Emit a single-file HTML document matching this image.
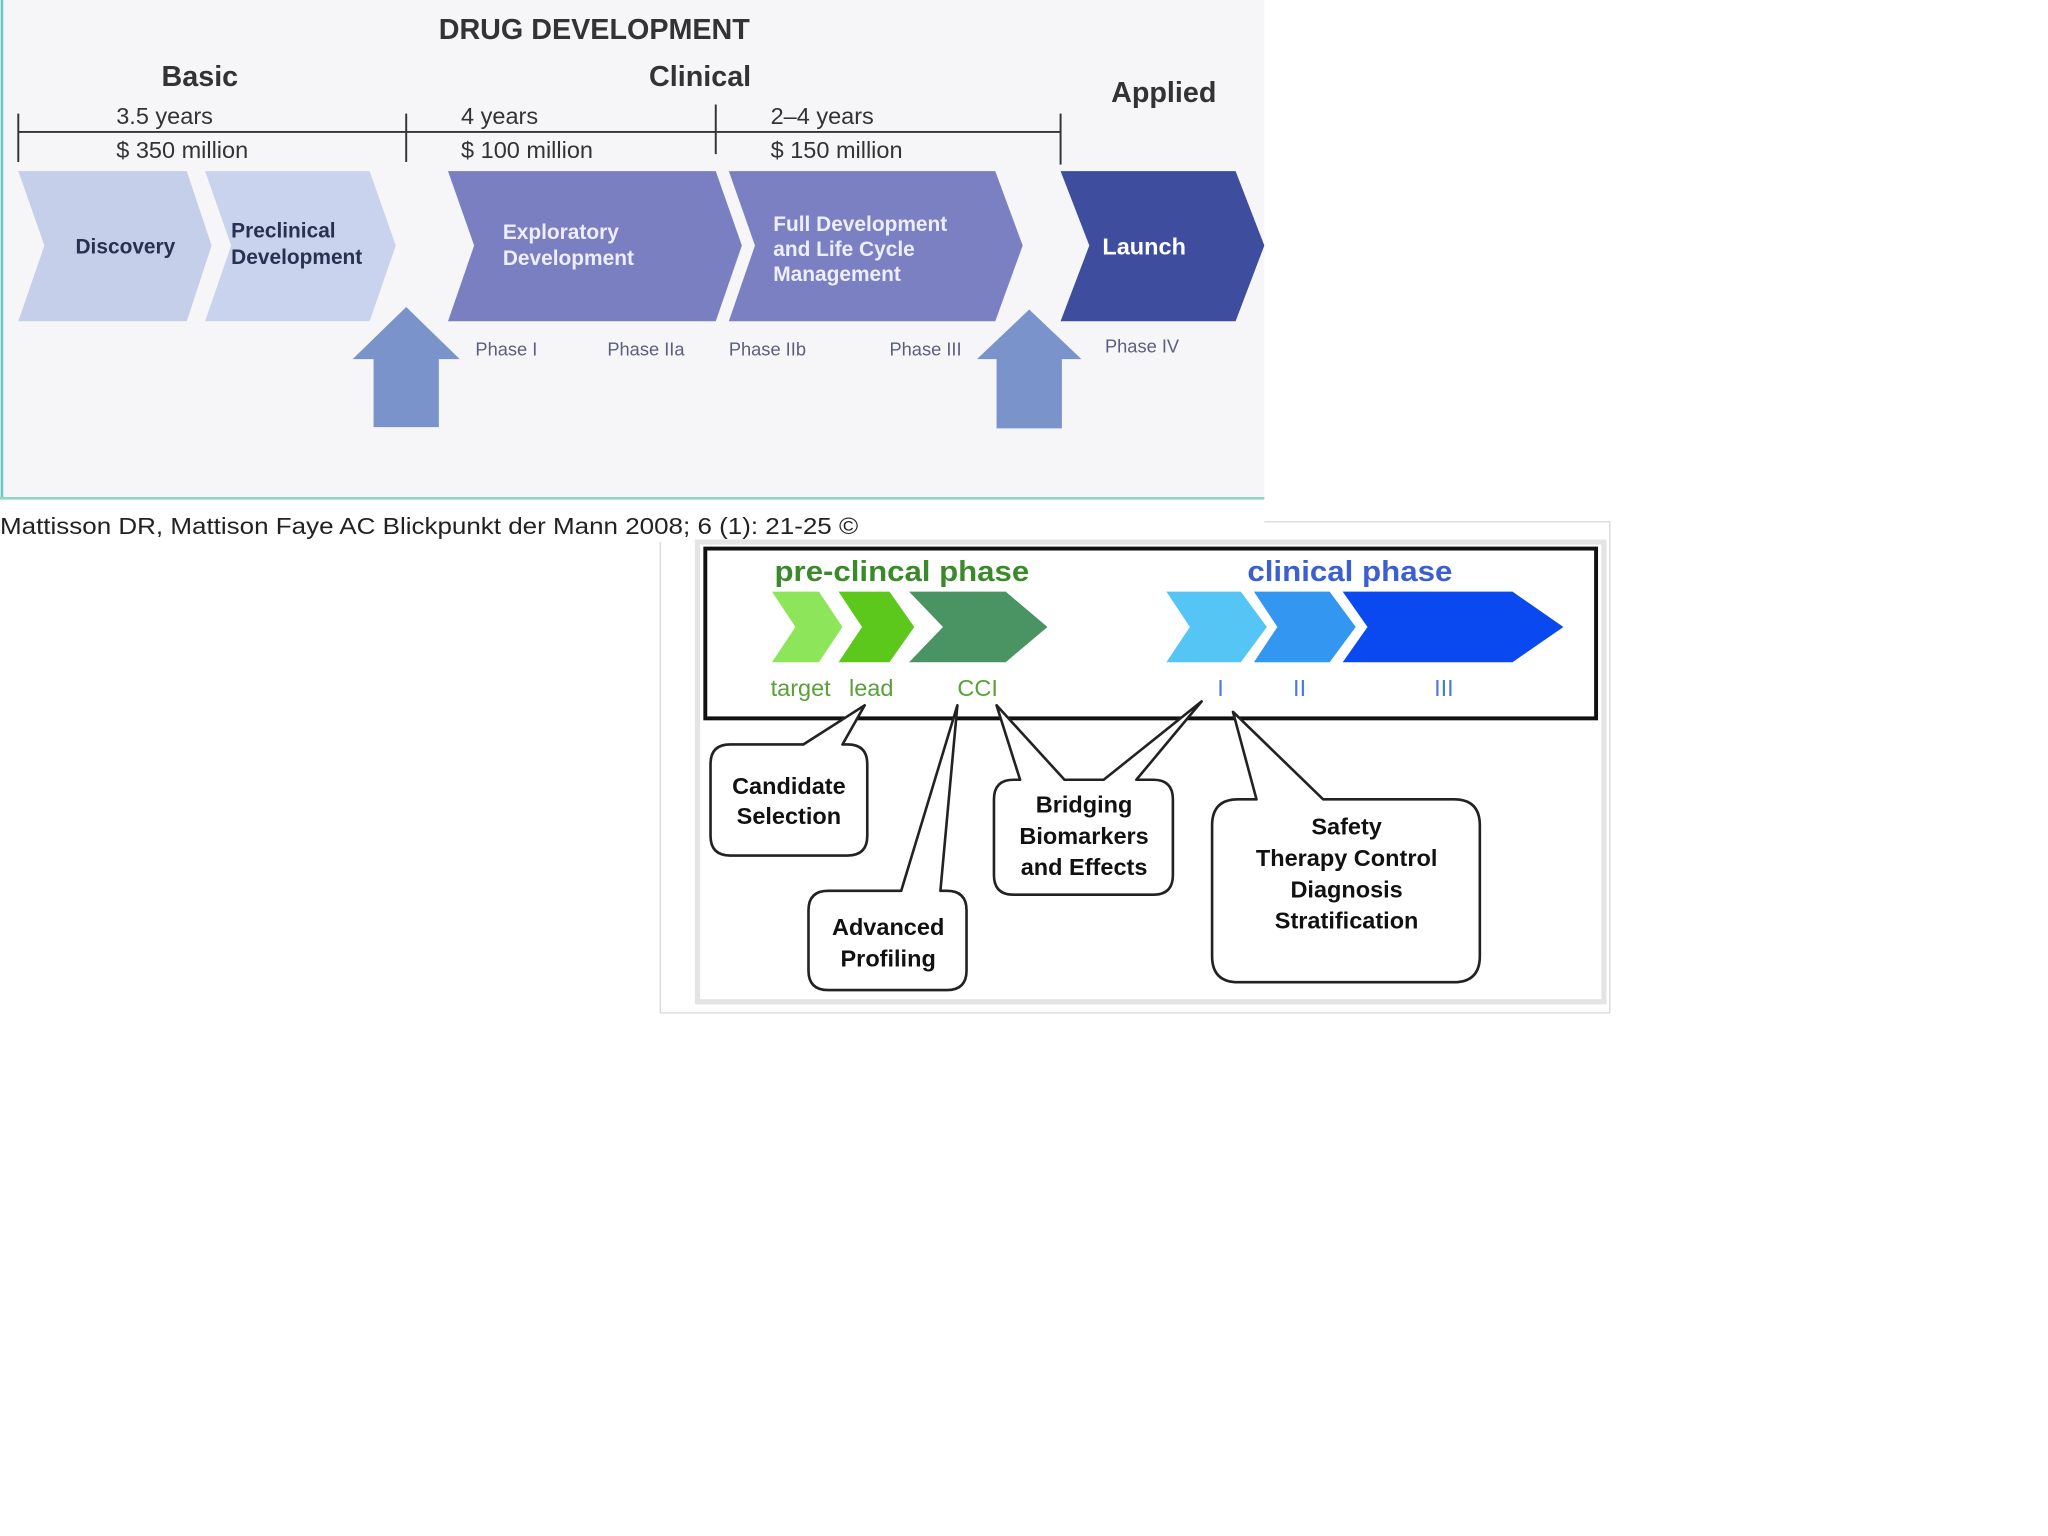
<!DOCTYPE html>
<html><head><meta charset="utf-8"><style>
html,body{margin:0;padding:0;background:#fff;}
svg{display:block;}
text{font-family:"Liberation Sans",Arial,sans-serif;}
</style></head><body>
<svg width="2048" height="1536" viewBox="0 0 1568 1176" xmlns="http://www.w3.org/2000/svg">
<rect x="0" y="0" width="1568" height="1176" fill="#fff"/>
<!-- top panel -->
<rect x="0" y="0" width="968" height="381" fill="#f6f6f8"/>
<line x1="1.5" y1="0" x2="1.5" y2="381" stroke="#6cc7c0" stroke-width="2"/>
<line x1="0" y1="381.5" x2="968" y2="381.5" stroke="#8fd3cc" stroke-width="2"/>
<text x="455" y="30" text-anchor="middle" font-size="22" font-weight="bold" fill="#333">DRUG DEVELOPMENT</text>
<text x="153" y="66" text-anchor="middle" font-size="22" font-weight="bold" fill="#333">Basic</text>
<text x="536" y="66" text-anchor="middle" font-size="22" font-weight="bold" fill="#333">Clinical</text>
<text x="891" y="78" text-anchor="middle" font-size="22" font-weight="bold" fill="#333">Applied</text>
<g stroke="#333" stroke-width="1.5">
<line x1="14" y1="101" x2="812" y2="101"/>
<line x1="14" y1="87" x2="14" y2="124"/>
<line x1="311" y1="87" x2="311" y2="124"/>
<line x1="548" y1="80" x2="548" y2="118"/>
<line x1="812" y1="87" x2="812" y2="126"/>
</g>
<g font-size="18" fill="#333">
<text x="89" y="95">3.5 years</text><text x="89" y="121">$ 350 million</text>
<text x="353" y="95">4 years</text><text x="353" y="121">$ 100 million</text>
<text x="590" y="95">2–4 years</text><text x="590" y="121">$ 150 million</text>
</g>
<polygon points="14,131 143,131 162,188 143,246 14,246 34,188" fill="#c5cfea"/>
<polygon points="157,131 283,131 303,188 283,246 157,246 177,188" fill="#c9d3ed"/>
<polygon points="343,131 548,131 568,188 548,246 343,246 363,188" fill="#7a7fc1"/>
<polygon points="558,131 762,131 783,188 762,246 558,246 578,188" fill="#7b80c3"/>
<polygon points="812,131 946,131 968,188 946,246 812,246 834,188" fill="#3e4d9e"/>
<g font-size="16" font-weight="bold">
<text x="96" y="194" text-anchor="middle" fill="#2a3050">Discovery</text>
<text x="177" y="182" fill="#2a3050">Preclinical</text><text x="177" y="202" fill="#2a3050">Development</text>
<text x="385" y="183" fill="#eef">Exploratory</text><text x="385" y="203" fill="#eef">Development</text>
<text x="592" y="177" fill="#eef">Full Development</text><text x="592" y="196" fill="#eef">and Life Cycle</text><text x="592" y="215" fill="#eef">Management</text>
<text x="876" y="195" text-anchor="middle" font-size="18" fill="#fff">Launch</text>
</g>
<polygon points="311,235 352,275 336,275 336,327 286,327 286,275 270,275" fill="#7a93ca"/>
<polygon points="788,237 828,275 813,275 813,328 763,328 763,275 748,275" fill="#7a93ca"/>
<g font-size="14" fill="#5a5f7e">
<text x="364" y="272">Phase I</text><text x="465" y="272">Phase IIa</text>
<text x="558" y="272">Phase IIb</text><text x="681" y="272">Phase III</text>
<text x="846" y="270">Phase IV</text>
</g>
<!-- bottom panel -->
<rect x="505.5" y="399.5" width="727" height="376" fill="#fff" stroke="#d8d8d8"/>
<rect x="0" y="388" width="968" height="27" fill="#fff"/>
<text x="0" y="409" font-size="18" fill="#222" textLength="657" lengthAdjust="spacingAndGlyphs">Mattisson DR, Mattison Faye AC Blickpunkt der Mann 2008; 6 (1): 21-25 ©</text>
<rect x="534" y="415" width="694" height="352" fill="#fff" stroke="#e4e4e4" stroke-width="4"/>
<rect x="540" y="420" width="682" height="130" fill="#fff" stroke="#111" stroke-width="3"/>
<text x="593" y="445" font-size="22" font-weight="bold" fill="#3a8a2a" textLength="195" lengthAdjust="spacingAndGlyphs">pre-clincal phase</text>
<text x="955" y="445" font-size="22" font-weight="bold" fill="#3b5ed0" textLength="157" lengthAdjust="spacingAndGlyphs">clinical phase</text>
<polygon points="591,453 627,453 645,480 627,507 591,507 609,480" fill="#8de65a"/>
<polygon points="642,453 681,453 700,480 681,507 642,507 660,480" fill="#5dc81c"/>
<polygon points="696,453 770,453 802,480 770,507 696,507 722,480" fill="#4a9463"/>
<polygon points="893,453 950,453 970,480 950,507 893,507 911,480" fill="#55c5f5"/>
<polygon points="960,453 1018,453 1038,480 1018,507 960,507 978,480" fill="#3396f0"/>
<polygon points="1028,453 1158,453 1197,480 1158,507 1028,507 1047,480" fill="#0a48f0"/>
<g font-size="18" fill="#5aa03a">
<text x="590" y="533">target</text><text x="650" y="533">lead</text><text x="733" y="533">CCI</text>
</g>
<g font-size="18" fill="#4a7ae0">
<text x="932" y="533">I</text><text x="990" y="533">II</text><text x="1098" y="533">III</text>
</g>
<g fill="#fff" stroke="#222" stroke-width="2" stroke-linejoin="round">
<path d="M559,570 H615 L662,540 L645,570 H649 Q664,570 664,585 V640 Q664,655 649,655 H559 Q544,655 544,640 V585 Q544,570 559,570 Z"/>
<path d="M634,682 H690 L733,540 L720,682 H725 Q740,682 740,697 V743 Q740,758 725,758 H634 Q619,758 619,743 V697 Q619,682 634,682 Z"/>
<path d="M776,597 H781 L763,540 L815,597 H845 L920,537 L870,597 H883 Q898,597 898,612 V670 Q898,685 883,685 H776 Q761,685 761,670 V612 Q761,597 776,597 Z"/>
<path d="M948,612 H962 L944,545 L1013,612 H1113 Q1133,612 1133,632 V732 Q1133,752 1113,752 H948 Q928,752 928,732 V632 Q928,612 948,612 Z"/>
</g>
<g font-size="18" font-weight="bold" fill="#111" text-anchor="middle">
<text x="604" y="608">Candidate</text><text x="604" y="631">Selection</text>
<text x="680" y="716">Advanced</text><text x="680" y="740">Profiling</text>
<text x="830" y="622">Bridging</text><text x="830" y="646">Biomarkers</text><text x="830" y="670">and Effects</text>
<text x="1031" y="639">Safety</text><text x="1031" y="663">Therapy Control</text><text x="1031" y="687">Diagnosis</text><text x="1031" y="711">Stratification</text>
</g>
</svg>
</body></html>
